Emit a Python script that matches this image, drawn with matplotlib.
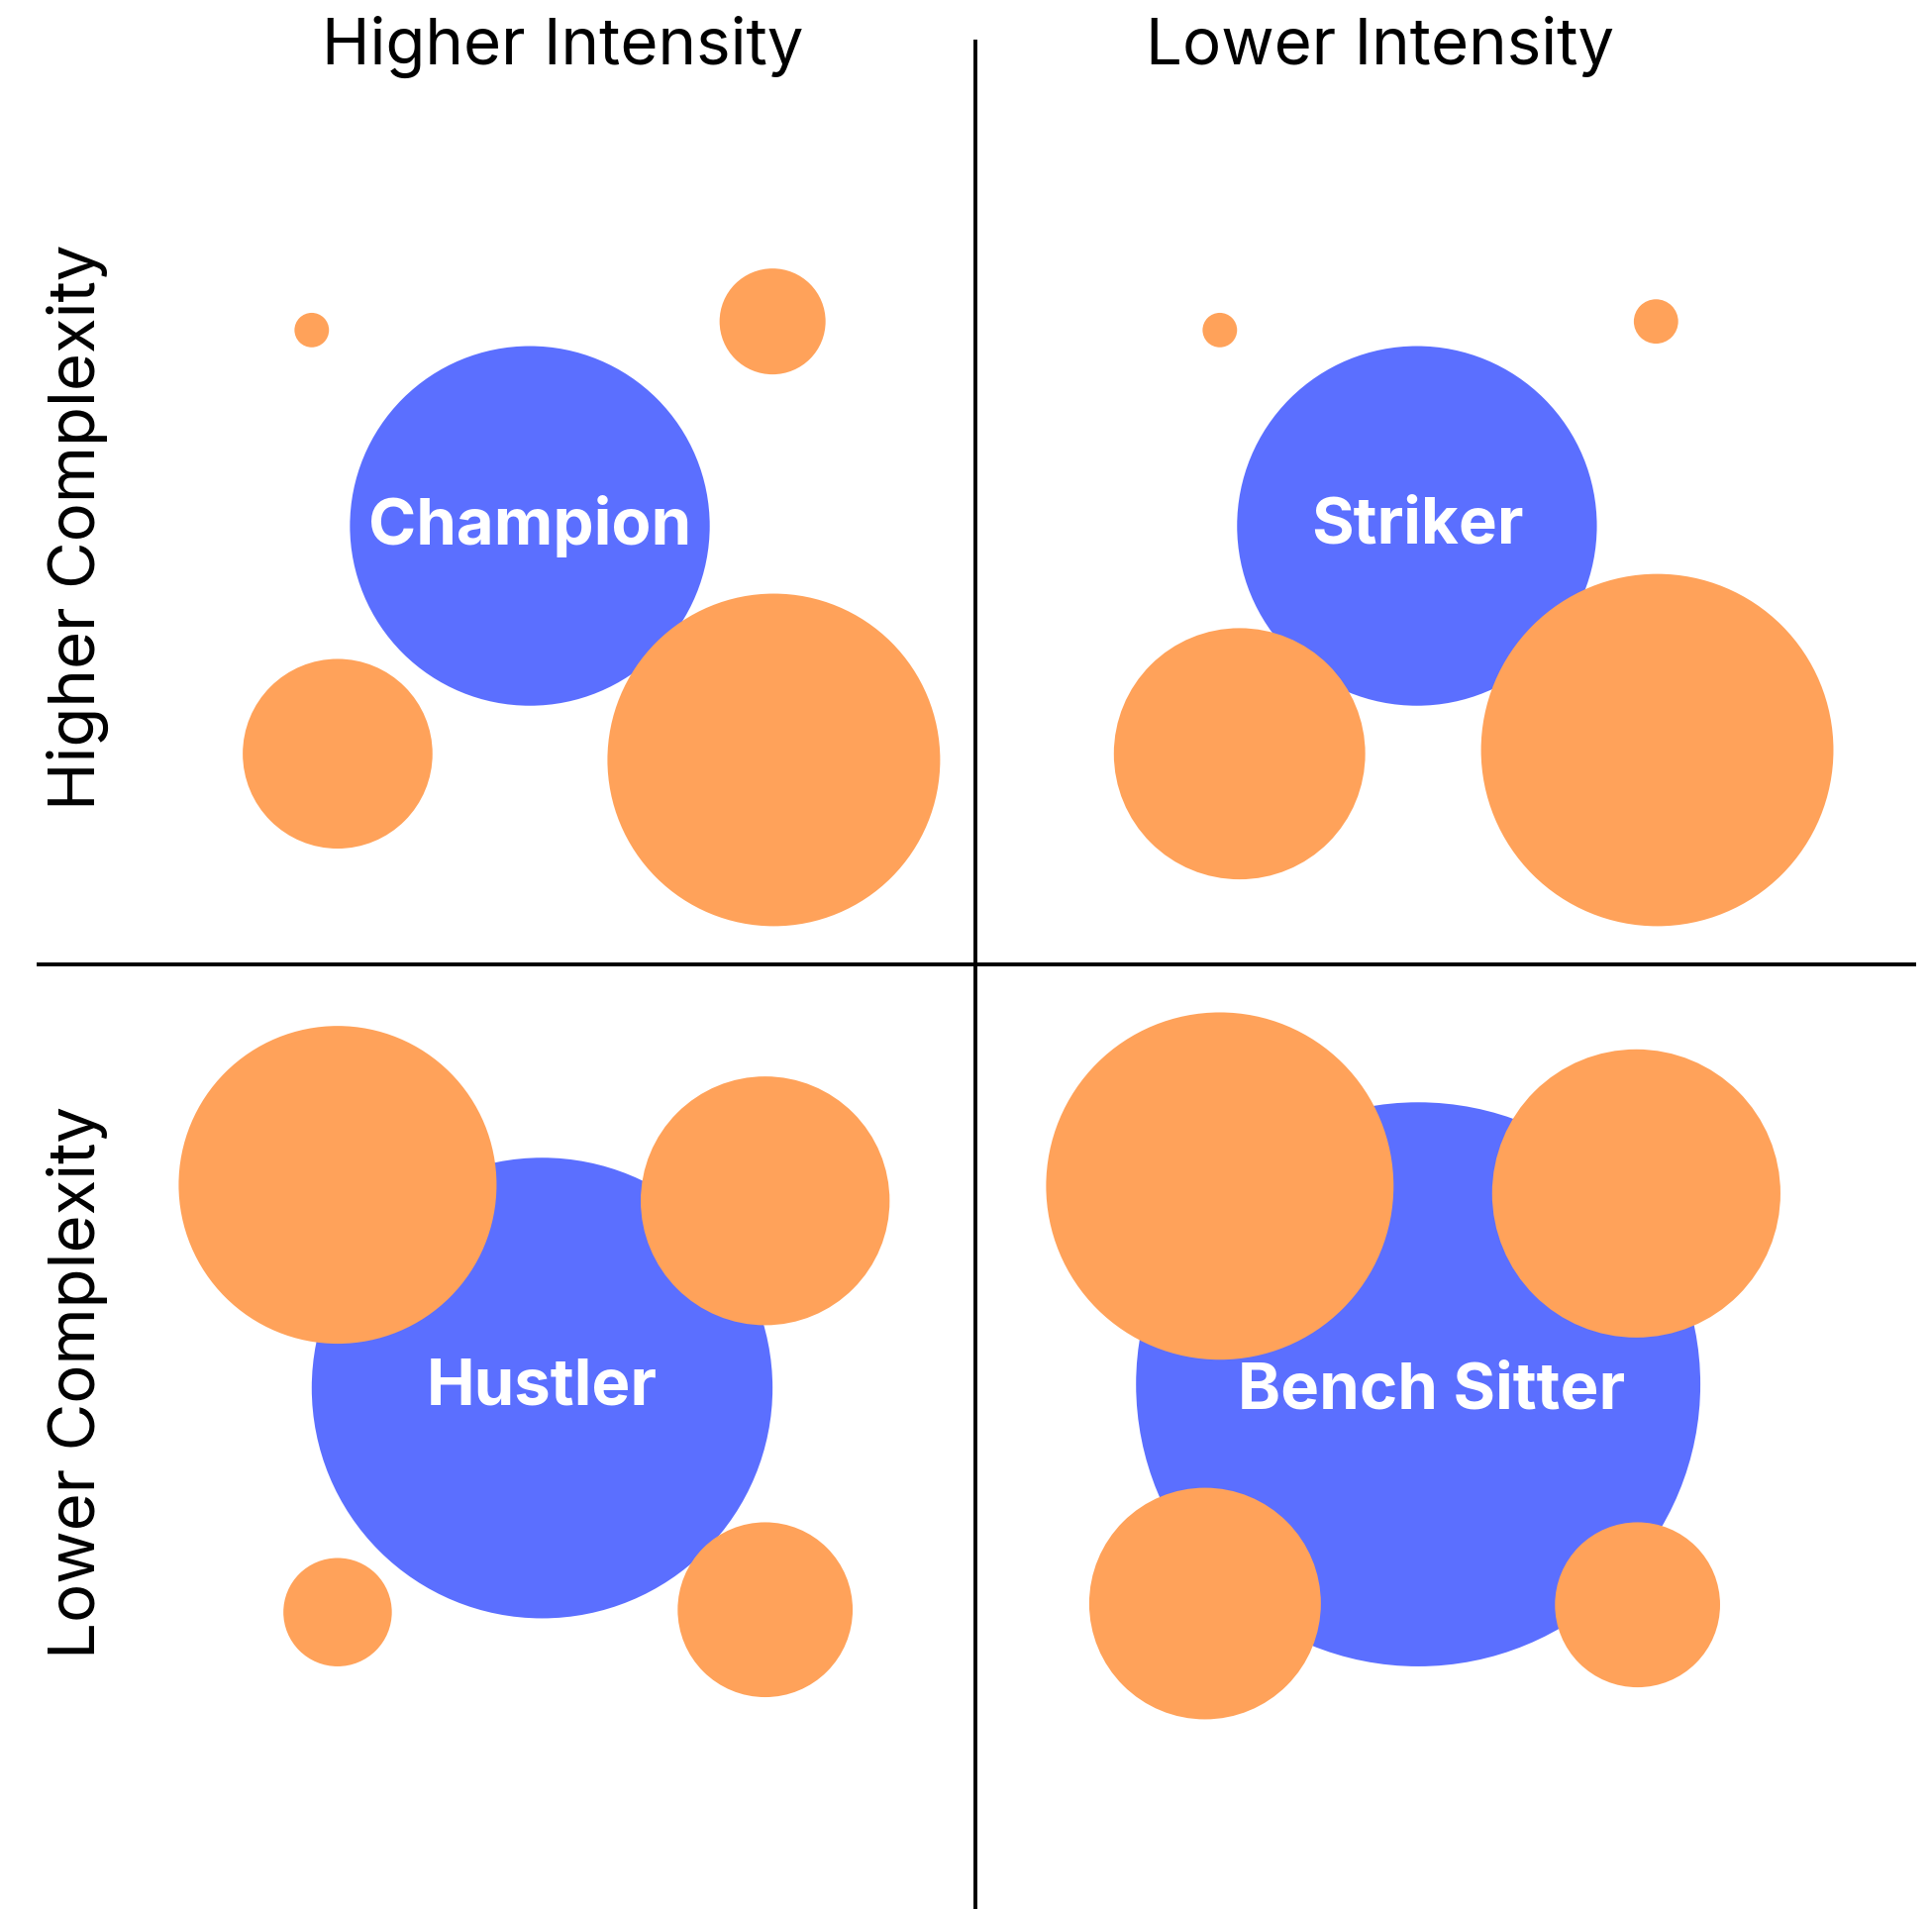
import matplotlib.pyplot as plt
from matplotlib.patches import Circle

plt.rcParams['font.family'] = ['Inter', 'DejaVu Sans']

# quadrant labels (blue circles): x, y, r in canvas units (1568 x 1550 space)
main_names = ["Champion", "Striker", "Hustler", "Bench Sitter"]
main_x = [430, 1150, 440, 1151]
main_y = [427, 427, 1127, 1124]
main_r = [146, 146, 187, 229]
label_x = [430, 1150, 440, 1162]
label_y = [427, 427, 1127, 1130]

# orange satellite circles
sat_x = [253, 627, 274, 628,
         990, 1344, 1006, 1345,
         274, 621, 274, 621,
         990, 1328, 978, 1329]
sat_y = [268, 261, 612, 617,
         268, 261, 612, 609,
         962, 975, 1309, 1307,
         963, 969, 1302, 1303]
sat_r = [14, 43, 77, 135,
         14, 18, 102, 143,
         129, 101, 44, 71,
         141, 117, 94, 67]

col_titles = ["Higher Intensity", "Lower Intensity"]
col_title_x = [457, 1120]
row_titles = ["Higher Complexity", "Lower Complexity"]
row_title_y = [428, 1122]

blue = "#5B6FFF"
orange = "#FFA25A"

fig = plt.figure(figsize=(19.51, 19.28), dpi=100)
ax = fig.add_axes([0, 0, 1, 1])
ax.set_xlim(0, 1568)
ax.set_ylim(1550, 0)
ax.axis("off")

# divider lines
ax.plot([792, 792], [32, 1550], color="black", lw=2.8, solid_capstyle="butt")
ax.plot([30, 1555], [783, 783], color="black", lw=2.8, solid_capstyle="butt")

for x, y, r in zip(main_x, main_y, main_r):
    ax.add_patch(Circle((x, y), r, color=blue, lw=0, zorder=2))
for x, y, r in zip(sat_x, sat_y, sat_r):
    ax.add_patch(Circle((x, y), r, color=orange, lw=0, zorder=3))

for name, x, y in zip(main_names, label_x, label_y):
    ax.text(x, y, name, color="white", fontsize=47, fontweight="bold",
            ha="center", va="center", zorder=4)

for t, x in zip(col_titles, col_title_x):
    ax.text(x, 38, t, fontsize=47, ha="center", va="center")
for t, y in zip(row_titles, row_title_y):
    ax.text(63, y, t, fontsize=47, ha="center", va="center", rotation=90)

fig.savefig("out.png", dpi=100)
